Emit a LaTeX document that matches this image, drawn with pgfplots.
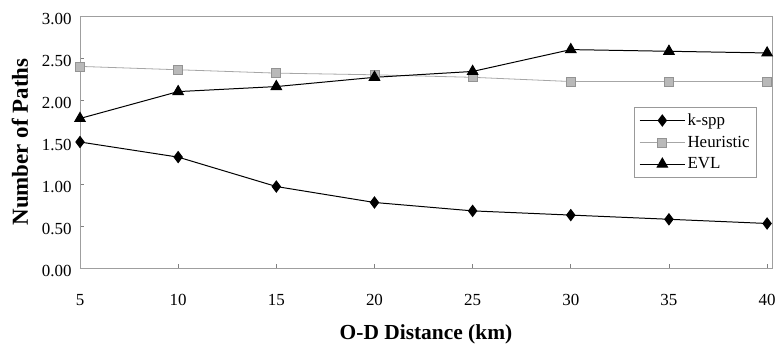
\documentclass[border=0pt]{standalone}
\usepackage{fontspec}
\setmainfont{Liberation Serif}
\usepackage{pgfplots}
\pgfplotsset{compat=1.18}
\begin{document}
\begin{tikzpicture}
\begin{axis}[
  name=ax,
  scale only axis,
  width=692bp, height=252bp,
  xmin=5, xmax=40.25, ymin=0, ymax=3,
  xtick={5,10,15,20,25,30,35,40},
  ytick={0,0.5,1,1.5,2,2.5,3},
  yticklabel style={xshift=-5bp, yshift=-3bp, /pgf/number format/fixed, /pgf/number format/fixed zerofill, /pgf/number format/precision=2},
  /pgf/number format/assume math mode=true,
  ticklabel style={font=\fontsize{17}{19}\selectfont},
  xticklabel style={yshift=-23bp},
  tick pos=left,
  tick style={gray, line width=0.6pt},
  major tick length=4bp,
  axis line style={gray!75, line width=0.9pt},
  xlabel={\textbf{O-D Distance (km)}},
  ylabel={\textbf{Number of Paths}},
  xlabel style={font=\fontsize{21.5}{23}\selectfont, at={(axis description cs:0.5,0)}, anchor=center, yshift=-66bp},
  ylabel style={font=\fontsize{23}{25}\selectfont, at={(axis description cs:0,0.5)}, anchor=center, yshift=60bp},
  clip=false,
  legend style={at={(0.978,0.64)}, anchor=north east, draw=gray!80,
    font=\fontsize{17}{18}\selectfont, inner xsep=5bp, inner ysep=5bp, row sep=5bp,
    cells={anchor=west}},
  legend image code/.code={\draw[mark repeat=2,mark phase=2,#1] plot coordinates {(0cm,0cm) (0.8cm,0cm) (1.6cm,0cm)};},
]
\addplot[black, line width=1pt, mark=diamond*, mark size=5.5bp, mark options={fill=black}]
  coordinates {(5,1.50) (10,1.32) (15,0.97) (20,0.78) (25,0.68) (30,0.63) (35,0.58) (40,0.53)};
\addlegendentry{k-spp}
\addplot[gray!70, line width=0.8pt, mark=square*, mark size=4.5bp, mark options={fill=gray!55, draw=gray!85}]
  coordinates {(5,2.40) (10,2.36) (15,2.32) (20,2.30) (25,2.27) (30,2.22) (35,2.22) (40,2.22)};
\addlegendentry{Heuristic}
\addplot[black, line width=1pt, mark=triangle*, mark size=6bp, mark options={fill=black}]
  coordinates {(5,1.78) (10,2.10) (15,2.16) (20,2.27) (25,2.34) (30,2.60) (35,2.58) (40,2.56)};
\addlegendentry{EVL}
\end{axis}
\pgfresetboundingbox
\path[use as bounding box] ([shift={(-80bp,-77bp)}]ax.south west) rectangle ([shift={(4bp,16bp)}]ax.north east);
\end{tikzpicture}
\end{document}
